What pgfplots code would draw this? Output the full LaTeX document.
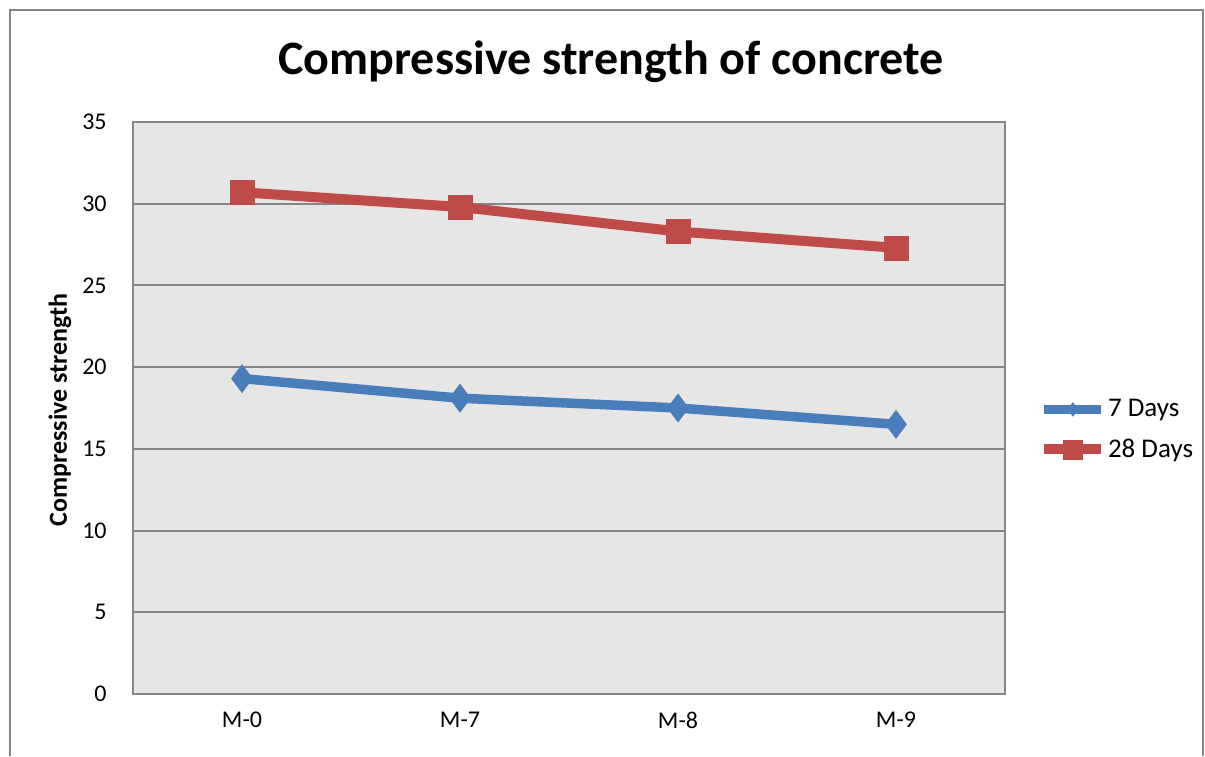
\documentclass[border=0pt]{standalone}
\usepackage{fontspec}
\setmainfont{Carlito}
\usepackage{pgfplots}
\pgfplotsset{compat=1.18}

\definecolor{sevenday}{HTML}{4A7EBB}
\definecolor{twentyeight}{HTML}{BE4B48}
\definecolor{plotbg}{HTML}{E6E6E6}
\definecolor{gridgray}{HTML}{868686}

\begin{document}
\begin{tikzpicture}[x=1pt,y=1pt]
\path[use as bounding box] (0,0) rectangle (602.5,378);
% chart frame
\draw[gridgray, line width=0.8pt] (5,0) -- (5,373) -- (601.5,373) -- (601.5,0);
\node[font=\fontsize{24}{28}\selectfont\bfseries] at (305.5,347) {Compressive strength of concrete};
\begin{axis}[
  at={(66.5pt,31pt)}, anchor=south west,
  width=436pt, height=286pt, scale only axis,
  xmin=-0.5, xmax=3.5, ymin=0, ymax=35,
  xtick={0,1,2,3}, xticklabels={M-0,M-7,M-8,M-9},
  ytick={0,5,...,35},
  ymajorgrids, grid style={gridgray, line width=1pt},
  axis background/.style={fill=plotbg},
  axis line style={gridgray, line width=1pt},
  major tick length=0pt,
  /pgf/number format/assume math mode=true,
  tick label style={font=\fontsize{12}{14}\selectfont},
  xticklabel style={inner sep=0pt, yshift=-9pt},
  yticklabel style={inner sep=0pt, xshift=-13pt},
  ylabel={Compressive strength},
  ylabel style={font=\fontsize{13}{15}\selectfont\bfseries, at={(axis description cs:-0.0837,0.497)}, anchor=center},
  legend style={at={(1.039,0.462)}, anchor=west, draw=none, fill=none,
    inner sep=0pt, font=\fontsize{13.5}{16}\selectfont, row sep=8pt,
    cells={anchor=west}, nodes={inner sep=0.8pt}},
  legend image code/.code={
    \draw[#1, mark=none] (0pt,0pt) -- (28.5pt,0pt);
    \draw[#1] plot coordinates {(14.25pt,0pt)};
  },
]
\addplot[color=sevenday, line width=4.75pt, mark=diamond*, mark size=7pt,
  mark options={fill=sevenday, draw=sevenday, line width=0.3pt},
  legend image post style={mark size=3.4pt}]
  coordinates {(0,19.3) (1,18.1) (2,17.5) (3,16.5)};
\addlegendentry{7 Days}
\addplot[color=twentyeight, line width=5pt, mark=square*, mark size=6pt,
  mark options={fill=twentyeight, draw=twentyeight, line width=0.3pt},
  legend image post style={mark size=4.8pt}]
  coordinates {(0,30.7) (1,29.8) (2,28.3) (3,27.3)};
\addlegendentry{28 Days}
\end{axis}
\end{tikzpicture}
\end{document}
